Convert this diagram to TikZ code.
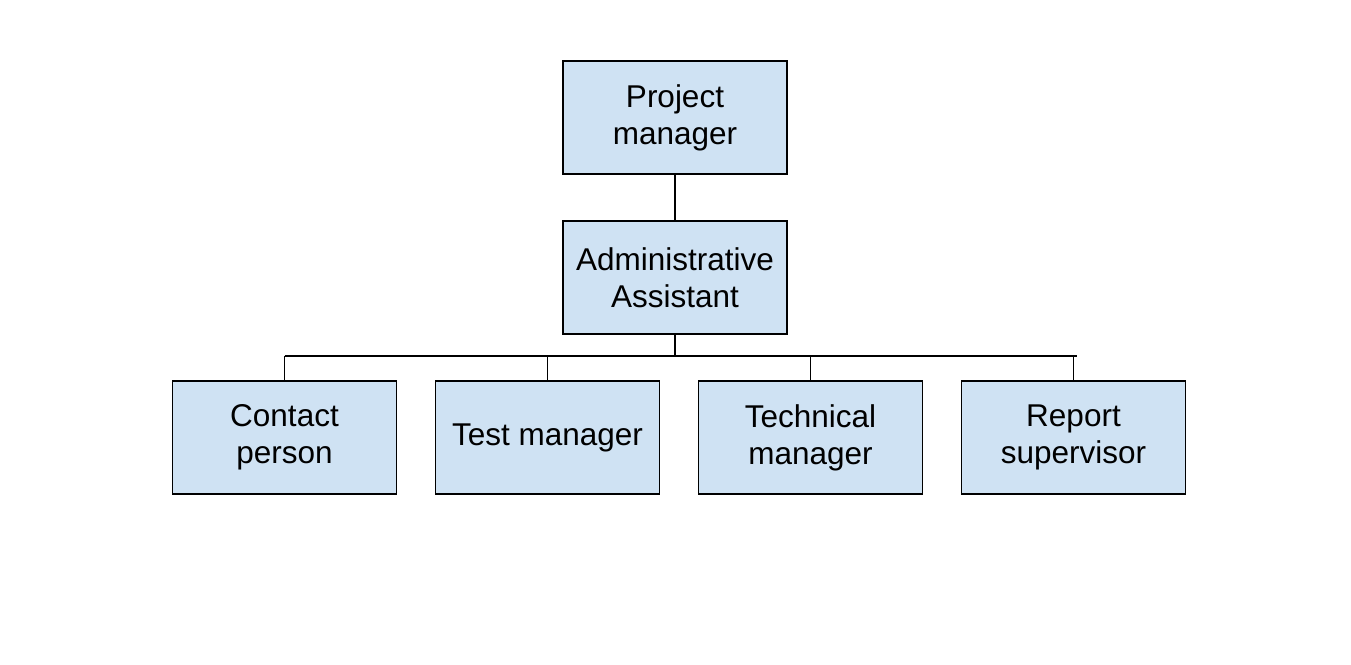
\documentclass[tikz,border=0pt]{standalone}
\usepackage{fontspec}
\setmainfont{Liberation Sans}
\usepackage{tikz}
\usetikzlibrary{calc}
\definecolor{boxblue}{HTML}{CFE2F3}
\tikzstyle{rolebox} = [draw=black, fill=boxblue, line width=1.8pt, minimum width=224pt, minimum height=113pt, align=center, inner sep=0pt]
\tikzstyle{link} = [line width=1.8pt]
\tikzset{font={\fontsize{31.5}{37}\selectfont}}

\begin{document}
\begin{tikzpicture}[x=1pt, y=-1pt]
  \useasboundingbox (0,0) rectangle (1351,664);

  % top of the tree
  \node[at={(675,117.5)}, rolebox] (pm) {Project\\manager};
  \node[at={(675,277.5)}, rolebox] (aa) {Administrative\\Assistant};

  % bottom row
  \begin{scope}
    \node[at={(284.5,437.5)}, rolebox] (cp) {Contact\\person};
    \node[at={(547.5,437.5)}, rolebox] (tm) {Test manager};
    \node[at={(810.5,437.5)}, rolebox] (tech) {Technical\\manager};
    \node[at={(1073.5,437.5)}, rolebox] (rs) {Report\\supervisor};
  \end{scope}

  \coordinate (busL) at (284.5,356);
  \coordinate (busR) at (1076.5,356);

  \draw[link] (pm) -- (aa);
  \draw[link] (aa.south) -- (aa.south |- busL);
  \draw[link] (busL) -- (busR);
  \foreach \n in {cp,tm,tech,rs}
    \draw[link] (\n.north) -- (\n.north |- busL);

\end{tikzpicture}
\end{document}
